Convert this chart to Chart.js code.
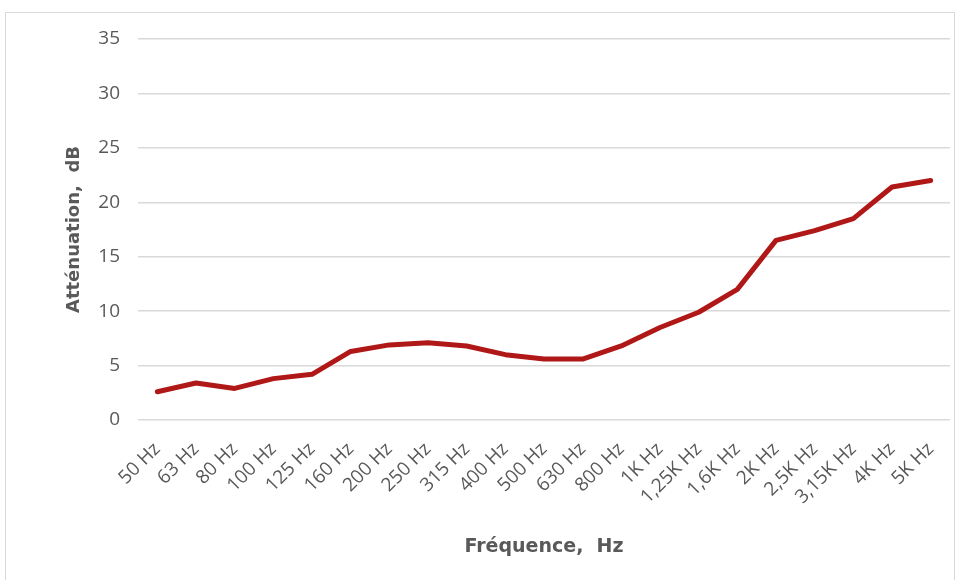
<!DOCTYPE html>
<html>
<head>
<meta charset="utf-8">
<script src="https://cdn.jsdelivr.net/npm/chart.js@4/dist/chart.umd.min.js"></script>
<style>
  html, body { margin: 0; padding: 0; background: #fff; }
  #wrap { position: relative; width: 959px; height: 580px; }
  #frame { position: absolute; left: 5px; top: 12px; width: 950px; height: 570px; border: 1px solid #d9d9d9; box-sizing: border-box; pointer-events: none; }
</style>
</head>
<body>
<div id="wrap">
  <canvas id="chart" width="959" height="580"></canvas>
  <div id="frame"></div>
</div>
<script>
// data
const frequencies = ['50 Hz', '63 Hz', '80 Hz', '100 Hz', '125 Hz', '160 Hz', '200 Hz', '250 Hz', '315 Hz', '400 Hz',
  '500 Hz', '630 Hz', '800 Hz', '1K Hz', '1,25K Hz', '1,6K Hz', '2K Hz', '2,5K Hz', '3,15K Hz', '4K Hz', '5K Hz'];
const attenuation = [2.6, 3.4, 2.9, 3.8, 4.2, 6.3, 6.9, 7.1, 6.8, 6.0,
  5.6, 5.6, 6.8, 8.5, 9.9, 12.0, 16.5, 17.4, 18.5, 21.4, 22.0];
const yMin = 0, yMax = 35, yStep = 5;

const grey = '#595959';
const ctx = document.getElementById('chart').getContext('2d');
new Chart(ctx, {
    type: 'line',
    data: {
        labels: frequencies,
        datasets: [{
            label: 'Atténuation',
            data: attenuation,
            borderColor: '#b01818',
            borderWidth: 5,
            borderCapStyle: 'round',
            borderJoinStyle: 'round',
            pointRadius: 0,
            tension: 0,
            fill: false
        }]
    },
    options: {
        responsive: false,
        animation: false,
        layout: { padding: { left: 55, right: 9, top: 39, bottom: 0 } },
        scales: {
            x: {
                offset: true,
                grid: { display: false },
                border: { display: false },
                ticks: {
                    color: grey,
                    font: { family: '"Open Sans", Lato, sans-serif', size: 19 },
                    minRotation: 45, maxRotation: 45,
                    autoSkip: false,
                    padding: 10
                },
                title: {
                    display: true,
                    text: 'Fréquence,  Hz',
                    color: grey,
                    font: { family: '"DejaVu Sans", sans-serif', size: 19, weight: 'bold' },
                    padding: { bottom: 22 }
                },
                afterFit: (s) => { s.height = 160; }
            },
            y: {
                min: yMin, max: yMax,
                grid: { color: '#d9d9d9', lineWidth: 1.5, drawTicks: false },
                border: { display: false },
                ticks: {
                    stepSize: yStep,
                    color: grey,
                    font: { family: '"Open Sans", Lato, sans-serif', size: 19 },
                    padding: 18
                },
                title: {
                    display: true,
                    text: 'Atténuation,  dB',
                    color: grey,
                    font: { family: '"DejaVu Sans", sans-serif', size: 18, weight: 'bold' },
                    padding: { top: 9 }
                },
                afterFit: (s) => { s.width = 83; }
            }
        },
        plugins: {
            legend: { display: false },
            tooltip: { enabled: false }
        }
    }
});
</script>
</body>
</html>
